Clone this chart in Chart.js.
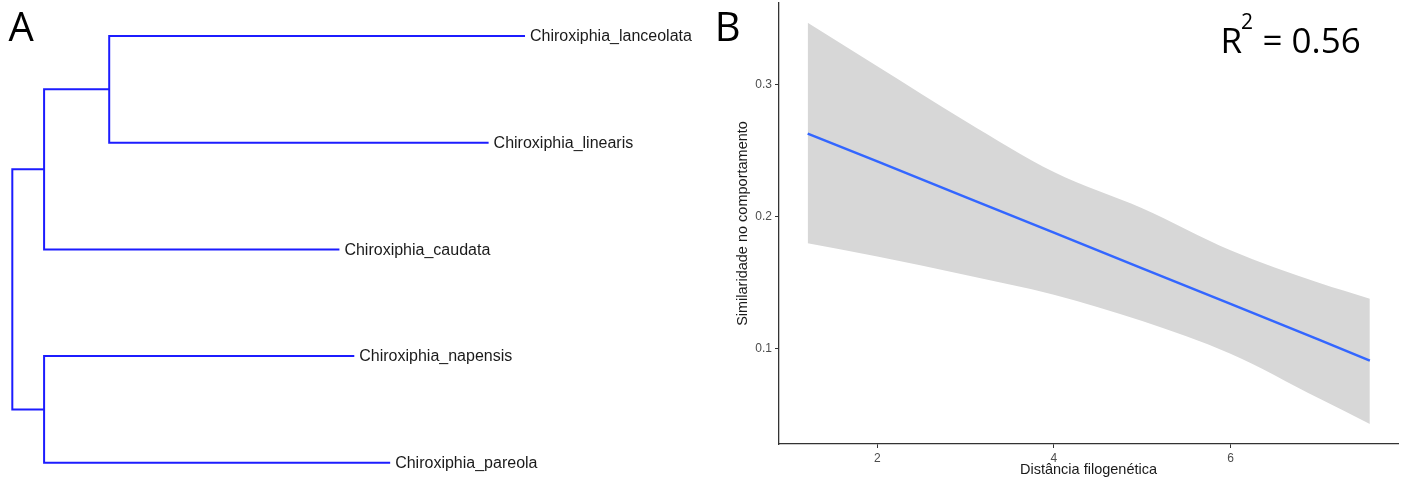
<!DOCTYPE html>
<html>
<head>
<meta charset="utf-8">
<script src="https://cdn.jsdelivr.net/npm/chart.js@4.4.1/dist/chart.umd.min.js"></script>
<style>
  html, body { margin: 0; padding: 0; background: #ffffff; }
  #wrap { position: relative; width: 1408px; height: 484px; overflow: hidden; background: #fff; }
  canvas { position: absolute; top: 0; }
  #cA { left: 0; }
  #cB { left: 700px; }
</style>
</head>
<body>
<div id="wrap">
  <canvas id="cA" width="700" height="484"></canvas>
  <canvas id="cB" width="708" height="484"></canvas>
</div>
<script>
// ---------- Panel A: dendrogram ----------
const species = ['Chiroxiphia_lanceolata', 'Chiroxiphia_linearis', 'Chiroxiphia_caudata', 'Chiroxiphia_napensis', 'Chiroxiphia_pareola'];
const tipDepth = [1.0, 0.929, 0.638, 0.667, 0.737];
const nodeIds = ['n2', 'n1', 'n3', 'root'];
const nodeDepth = [0.189, 0.062, 0.062, 0];
const nodeChildA = ['t0', 'n2', 't3', 'n1'];
const nodeChildB = ['t1', 't2', 't4', 'n3'];

// ---------- Panel B: regression ----------
const distX = [1.212, 2, 3, 4, 5, 6, 7, 7.578];
const fitLine = [0.263, 0.242, 0.215, 0.188, 0.161, 0.134, 0.107, 0.091];
const bandUpper = [0.347, 0.314, 0.2725, 0.234, 0.2065, 0.1747, 0.150, 0.138];
const bandLower = [0.180, 0.170, 0.156, 0.141, 0.121, 0.0963, 0.0625, 0.0431];
const xTicks = [2, 4, 6];
const xTickLabels = ['2', '4', '6'];
const yTicks = [0.1, 0.2, 0.3];
const yTickLabels = ['0.1', '0.2', '0.3'];

// Build dendrogram geometry from the tree arrays
const posY = {}, posX = {};
species.forEach((s, i) => { posY['t' + i] = i + 1; posX['t' + i] = tipDepth[i]; });
nodeIds.forEach((id, i) => {
  posY[id] = (posY[nodeChildA[i]] + posY[nodeChildB[i]]) / 2;
  posX[id] = nodeDepth[i];
});
const treeBlue = 'rgb(28,28,255)';
const treeSets = nodeIds.map((id, i) => {
  const a = nodeChildA[i], b = nodeChildB[i];
  return {
    data: [
      { x: posX[a], y: posY[a] },
      { x: posX[id], y: posY[a] },
      { x: posX[id], y: posY[b] },
      { x: posX[b], y: posY[b] }
    ],
    showLine: true, borderColor: treeBlue, borderWidth: 2, pointRadius: 0,
    borderJoinStyle: 'miter', borderCapStyle: 'butt', fill: false
  };
});

const tipLabels = {
  id: 'tipLabels',
  afterDatasetsDraw(chart) {
    const { ctx, scales: { x, y } } = chart;
    ctx.save();
    ctx.font = '16px "Liberation Sans", Arial, sans-serif';
    ctx.fillStyle = '#1a1a1a';
    ctx.textAlign = 'left';
    ctx.textBaseline = 'middle';
    species.forEach((s, i) => {
      ctx.fillText(s, x.getPixelForValue(tipDepth[i]) + 5, y.getPixelForValue(i + 1) + 1);
    });
    ctx.font = '40px "Open Sans", sans-serif';
    ctx.fillStyle = '#000';
    ctx.textBaseline = 'alphabetic';
    ctx.fillText('A', 8.5, 40.7);
    ctx.restore();
  }
};

new Chart(document.getElementById('cA'), {
  type: 'scatter',
  data: { datasets: treeSets },
  options: {
    responsive: false, animation: false,
    layout: { padding: 0 },
    plugins: { legend: { display: false }, tooltip: { enabled: false } },
    scales: {
      x: { type: 'linear', display: false, min: -0.024, max: 1.3413 },
      y: { type: 'linear', display: false, reverse: true, min: 0.6626, max: 5.199 }
    }
  },
  plugins: [tipLabels]
});

// ---------- Panel B chart ----------
const annotB = {
  id: 'annotB',
  afterDraw(chart) {
    const { ctx } = chart;
    ctx.save();
    ctx.fillStyle = '#000';
    ctx.textAlign = 'left';
    ctx.textBaseline = 'alphabetic';
    ctx.font = '40px "Open Sans", sans-serif';
    ctx.fillText('B', 14.7, 40.7);
    ctx.font = '35px "Open Sans", sans-serif';
    ctx.fillText('R', 520.5, 53.3);
    ctx.font = '21px "Open Sans", sans-serif';
    ctx.fillText('2', 541, 29);
    ctx.font = '35px "Open Sans", sans-serif';
    ctx.fillText('= 0.56', 562.5, 53.3);
    ctx.restore();
  }
};

const pts = (ys) => distX.map((xv, i) => ({ x: xv, y: ys[i] }));

new Chart(document.getElementById('cB'), {
  type: 'scatter',
  data: {
    datasets: [
      { data: pts(bandUpper), showLine: true, pointRadius: 0, borderWidth: 0, borderColor: 'rgba(0,0,0,0)',
        backgroundColor: '#D7D7D7', fill: '+1', cubicInterpolationMode: 'monotone', order: 2 },
      { data: pts(bandLower), showLine: true, pointRadius: 0, borderWidth: 0, borderColor: 'rgba(0,0,0,0)',
        fill: false, cubicInterpolationMode: 'monotone', order: 2 },
      { data: pts(fitLine), showLine: true, pointRadius: 0, borderWidth: 2.5, borderColor: '#3366FF',
        fill: false, order: 1 }
    ]
  },
  options: {
    responsive: false, animation: false,
    layout: { padding: { left: 0, right: 10, top: 3, bottom: 0 } },
    plugins: { legend: { display: false }, tooltip: { enabled: false } },
    scales: {
      x: {
        type: 'linear', min: 0.887, max: 7.897,
        afterBuildTicks: (s) => { s.ticks = xTicks.map(v => ({ value: v })); },
        afterFit: (s) => { s.height = 40; s.paddingLeft = 0; s.paddingRight = 0; },
        ticks: {
          padding: 3, color: '#4D4D4D', maxRotation: 0, autoSkip: false,
          font: { family: '"Liberation Sans", Arial, sans-serif', size: 12 },
          callback: (v) => xTickLabels[xTicks.indexOf(v)]
        },
        grid: { drawOnChartArea: false, drawTicks: true, tickLength: 4, color: '#333', lineWidth: 1 },
        border: { display: true, color: '#333', width: 1.3 },
        title: { display: true, text: 'Distância filogenética', color: '#1a1a1a',
          font: { family: '"Liberation Sans", Arial, sans-serif', size: 14.5 },
          padding: { top: 0, bottom: 5.3 } }
      },
      y: {
        type: 'linear', min: 0.0279, max: 0.362,
        afterBuildTicks: (s) => { s.ticks = yTicks.map(v => ({ value: v })); },
        afterFit: (s) => { s.width = 79; s.paddingTop = 0; s.paddingBottom = 0; },
        ticks: {
          padding: 3, color: '#4D4D4D', autoSkip: false,
          font: { family: '"Liberation Sans", Arial, sans-serif', size: 12 },
          callback: (v) => yTickLabels[yTicks.indexOf(v)]
        },
        grid: { drawOnChartArea: false, drawTicks: true, tickLength: 4, color: '#333', lineWidth: 1 },
        border: { display: true, color: '#333', width: 1.3 },
        title: { display: true, text: 'Similaridade no comportamento', color: '#1a1a1a',
          font: { family: '"Liberation Sans", Arial, sans-serif', size: 14.5 },
          padding: { top: 34, bottom: 0 } }
      }
    }
  },
  plugins: [annotB]
});
</script>
</body>
</html>
